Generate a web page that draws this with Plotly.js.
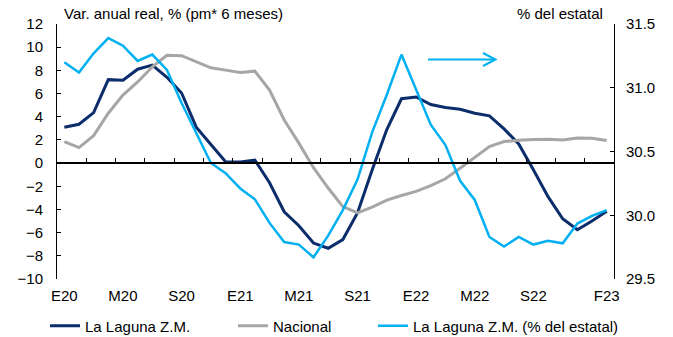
<!DOCTYPE html>
<html><head><meta charset="utf-8">
<script src="https://cdn.plot.ly/plotly-3.0.1.min.js"></script>
<style>html,body{margin:0;padding:0;background:#fff}#c{width:673px;height:337px}</style>
</head><body><div id="c"></div>
<script>
// Months Jan-2020 .. Feb-2023
const months = ["E20","F20","M20","A20","M20","J20","J20","A20","S20","O20","N20","D20",
                "E21","F21","M21","A21","M21","J21","J21","A21","S21","O21","N21","D21",
                "E22","F22","M22","A22","M22","J22","J22","A22","S22","O22","N22","D22",
                "E23","F23"];
const tickIdx = [0,4,8,12,16,20,24,28,32,37];
const tickLabels = ["E20","M20","S20","E21","M21","S21","E22","M22","S22","F23"];
const laguna = [3.1,3.35,4.35,7.2,7.15,8.1,8.45,7.4,6.05,3.1,1.6,0.12,0.1,0.25,-1.7,-4.2,-5.4,-6.9,-7.35,-6.6,-4.3,-0.6,2.9,5.55,5.7,5.05,4.8,4.65,4.3,4.08,2.95,1.65,-0.58,-2.9,-4.8,-5.75,-5.0,-4.15];
const nacional = [1.86,1.34,2.37,4.3,5.87,7.0,8.3,9.3,9.27,8.73,8.22,8.02,7.82,7.93,6.3,3.72,1.72,-0.4,-2.15,-3.75,-4.3,-3.8,-3.2,-2.8,-2.44,-1.95,-1.35,-0.45,0.5,1.43,1.86,1.98,2.03,2.05,2.0,2.17,2.15,1.94];
const lagunaPct = [31.2,31.12,31.27,31.39,31.33,31.21,31.26,31.14,30.88,30.65,30.41,30.33,30.21,30.125,29.94,29.79,29.77,29.67,29.84,30.04,30.28,30.65,30.945,31.26,30.98,30.71,30.55,30.27,30.12,29.83,29.755,29.83,29.77,29.8,29.78,29.935,29.995,30.04];
const names = ["La Laguna Z.M.","Nacional","La Laguna Z.M. (% del estatal)"];
const colors = ["#0c2d6b","#a6a6a6","#00b0f0"];

const idx = months.map((m,i)=>i);
const boundaries = [];
for (let b=-0.5; b<=37.5; b+=2) boundaries.push(b);

const FONT = "Liberation Sans, Arial, sans-serif";
const FS = 15;
const traces = [
  {x: idx, y: laguna, name: names[0], type:"scatter", mode:"lines", line:{color:colors[0], width:3}, xaxis:"x", yaxis:"y", legend:"legend"},
  {x: idx, y: nacional, name: names[1], type:"scatter", mode:"lines", line:{color:colors[1], width:3}, xaxis:"x", yaxis:"y", legend:"legend2"},
  {x: idx, y: lagunaPct, name: names[2], type:"scatter", mode:"lines", line:{color:colors[2], width:2.5}, xaxis:"x2", yaxis:"y2", legend:"legend3"}
];
const W = 673, H = 337, L = 57, R = 59, T = 24, B = 58;
const pw = W - L - R, ph = H - T - B;
const px = v => (v - L) / pw;
const py = v => (H - B - v) / ph;
const legBase = {orientation:"h", yanchor:"middle", xanchor:"left", y: py(326), font:{family:FONT, size:FS, color:"#000"}, bgcolor:"rgba(0,0,0,0)"};
const layout = {
  width: W, height: H,
  margin: {l:L, r:R, t:T, b:B, autoexpand:false},
  paper_bgcolor:"#fff", plot_bgcolor:"#fff",
  font: {family: FONT, size: FS, color:"#000"},
  showlegend: true,
  xaxis: {range:[-0.5,37.5], tickmode:"array", tickvals: tickIdx, ticktext: tickLabels, ticks:"", showline:false, showgrid:false, zeroline:false, tickfont:{size:FS}, ticklabelstandoff:6},
  xaxis2: {overlaying:"x", anchor:"free", position: 10/22, range:[-0.5,37.5], tickmode:"array", tickvals: boundaries, ticks:"inside", ticklen:4, tickcolor:"#000", tickwidth:1, showticklabels:false, showline:true, linecolor:"#000", linewidth:2, showgrid:false, zeroline:false},
  yaxis: {range:[-10,12], dtick:2, tick0:0, ticks:"inside", ticklen:4, tickcolor:"#000", showline:true, linecolor:"#000", linewidth:1, showgrid:false, zeroline:false, ticklabelstandoff:10, tickfont:{size:FS}},
  yaxis2: {overlaying:"y", side:"right", anchor:"x2", range:[29.5,31.5], tickvals:[29.5,30,30.5,31,31.5], tickformat:".1f", ticks:"inside", ticklen:4, tickcolor:"#000", showline:true, linecolor:"#000", linewidth:1, showgrid:false, zeroline:false, ticklabelstandoff:8, tickfont:{size:FS}},
  legend: Object.assign({}, legBase, {x: px(45)}),
  legend2: Object.assign({}, legBase, {x: px(233)}),
  legend3: Object.assign({}, legBase, {x: px(373)}),
  annotations: [
    {xref:"paper", yref:"paper", x: px(62), y: py(14), xanchor:"left", yanchor:"middle", text:"Var. anual real, % (pm* 6 meses)", showarrow:false, font:{size:FS}},
    {xref:"paper", yref:"paper", x: px(605), y: py(14), xanchor:"right", yanchor:"middle", text:"% del estatal", showarrow:false, font:{size:FS}}
  ],
  shapes: [
    {type:"line", xref:"paper", yref:"paper", x0: px(428), x1: px(495), y0: py(59.5), y1: py(59.5), line:{color:colors[2], width:2}},
    {type:"path", xref:"paper", yref:"paper", path:`M ${px(483)} ${py(53)} L ${px(495.5)} ${py(59.5)} L ${px(483)} ${py(66)}`, line:{color:colors[2], width:2}}
  ]
};
Plotly.newPlot("c", traces, layout, {staticPlot:true, displayModeBar:false});
</script></body></html>
